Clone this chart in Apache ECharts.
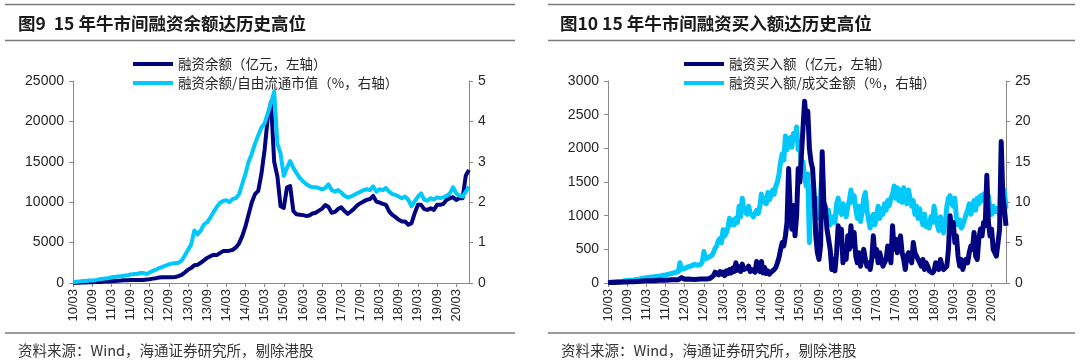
<!DOCTYPE html>
<html><head><meta charset="utf-8">
<script src="https://cdn.jsdelivr.net/npm/echarts@6/dist/echarts.min.js"></script>
<style>html,body{margin:0;padding:0;background:#fff}#c{width:1080px;height:363px}</style>
</head><body><div id="c"></div>
<script>
// ---------- Left chart: 融资余额 (monthly, 2010/03 - 2020/07) ----------
const leftBalance = [
  1, 20, 40, 55, 70, 90, 100, 115, 130, 130,
  170, 200, 230, 260, 280, 300, 330, 350, 370, 375, 380, 380,
  370, 420, 470, 540, 600, 680, 700, 700, 710, 720, 740, 850,
  1000, 1300, 1650, 1850, 2200, 2250, 2500, 2800, 3100, 3300, 3500, 3450,
  3700, 3950, 3950, 4000, 4100, 4400, 4900, 5800, 7000, 8500, 10000, 11000,
  11400, 13500, 16500, 20500, 22400, 15000, 13200, 9500, 9300, 11800, 12000, 8900,
  8500, 8450, 8400, 8300, 8350, 8600, 8700, 8950, 9200, 9650, 9400, 8700,
  8800, 9150, 9380, 8900, 8560, 8850, 9200, 9600, 9880, 10100, 10290, 10400,
  10780, 10080, 9960, 9800, 9670, 8850, 8440, 8150, 7820, 7610, 7610, 7200,
  7410, 8640, 9670, 9670, 9140, 9050, 9260, 9050, 9670, 9670, 9800, 10290,
  10490, 10620, 10290, 10490, 10500, 13300, 14000
];
const leftRatio = [
  0.02, 0.03, 0.04, 0.05, 0.05, 0.06, 0.06, 0.07, 0.09, 0.1,
  0.11, 0.12, 0.14, 0.15, 0.16, 0.17, 0.18, 0.19, 0.21, 0.22, 0.22, 0.25,
  0.25, 0.22, 0.26, 0.3, 0.33, 0.37, 0.4, 0.43, 0.46, 0.48, 0.49, 0.5,
  0.55, 0.68, 0.82, 0.95, 1.3, 1.2, 1.3, 1.45, 1.5, 1.62, 1.75, 1.88,
  1.98, 2.03, 2.05, 2.0, 2.08, 2.1, 2.2, 2.45, 2.7, 3.0, 3.2, 3.45,
  3.65, 3.85, 3.95, 4.2, 4.45, 4.74, 3.45, 3.2, 2.65, 2.85, 3.02, 2.85,
  2.72, 2.6, 2.52, 2.45, 2.4, 2.37, 2.37, 2.35, 2.32, 2.35, 2.44, 2.3,
  2.26, 2.3, 2.24, 2.16, 2.12, 2.14, 2.18, 2.22, 2.26, 2.3, 2.32, 2.3,
  2.39, 2.26, 2.32, 2.3, 2.35, 2.26, 2.2, 2.18, 2.14, 2.1, 2.14, 2.06,
  1.9, 2.02, 2.14, 2.22, 2.06, 2.04, 2.1, 2.07, 2.12, 2.1, 2.12, 2.16,
  2.22, 2.37, 2.22, 2.16, 2.14, 2.26, 2.39
];
// ---------- Right chart: 融资买入额 (semi-monthly, 2010/03 - 2020/07) ----------
const rightBuy = [
  3, 5, 6, 8, 8, 10, 10, 12, 12, 14, 15, 16, 16, 18, 20, 22, 20, 24, 22, 26,
  25, 28, 30, 26, 32, 30, 35, 28, 32, 30, 38, 34, 40, 35, 42, 38, 40, 36, 44, 40, 48, 45, 50, 42,
  48, 55, 80, 60, 55, 62, 58, 50, 55, 60, 52, 58, 55, 50, 58, 52, 60, 55, 58, 62, 70, 90, 110, 160,
  150, 120, 170, 130, 160, 110, 180, 140, 200, 150, 220, 170, 300, 190, 240, 170, 280, 200, 180, 220, 250, 170, 200, 180,
  160, 320, 200, 170, 320, 150, 230, 140, 180, 130, 160, 150, 200, 230, 300, 380, 500, 600, 550, 700, 900, 1700, 1100, 800,
  1150, 700, 1000, 1700, 1500, 1900, 2300, 2700, 2400, 2550, 2000, 1800, 1700, 1300, 700, 450, 350, 550, 1950, 1200, 1100, 800, 800, 500,
  200, 350, 180, 450, 850, 600, 800, 300, 450, 350, 700, 500, 850, 550, 750, 400, 300, 450, 250, 400, 500, 350, 250, 300,
  200, 350, 700, 400, 500, 300, 450, 350, 250, 300, 350, 550, 500, 300, 850, 500, 650, 450, 600, 700, 450, 350, 200, 400,
  450, 350, 300, 600, 450, 400, 350, 300, 250, 350, 200, 300, 250, 180, 200, 150, 180, 300, 250, 200, 350, 250, 200, 180,
  250, 500, 1000, 800, 900, 600, 700, 400, 250, 350, 200, 300, 350, 300, 450, 550, 500, 750, 400, 350, 650, 800, 700, 900,
  850, 1600, 900, 700, 800, 500, 450, 400, 600, 800, 2100, 1300, 1100, 850
];
const rightBuyRatio = [
  0.1, 0.1, 0.12, 0.15, 0.15, 0.18, 0.18, 0.2, 0.2, 0.22, 0.25, 0.28, 0.3, 0.32, 0.35, 0.4, 0.38, 0.42, 0.45, 0.48,
  0.5, 0.55, 0.6, 0.55, 0.65, 0.6, 0.7, 0.65, 0.75, 0.7, 0.8, 0.75, 0.85, 0.8, 0.95, 0.9, 1.0, 0.95, 1.1, 1.05, 1.2, 1.1, 1.3, 1.2,
  1.4, 2.5, 1.7, 1.6, 1.8, 1.9, 2.0, 1.8, 2.1, 2.0, 2.3, 2.1, 2.2, 2.4, 2.3, 2.6, 3.9, 3.0, 3.0, 3.2, 3.1, 3.4, 3.8, 4.3,
  4.6, 5.2, 5.5, 5.0, 6.6, 5.8, 6.2, 6.8, 8.0, 7.2, 7.8, 7.2, 8.0, 7.5, 9.5, 8.2, 10.5, 9.0, 9.2, 8.5, 9.5, 8.6, 8.8, 8.2,
  8.0, 9.0, 8.6, 9.5, 11.0, 10.0, 10.5, 9.8, 11.2, 10.3, 10.8, 11.5, 11.0, 12.0, 12.5, 13.5, 15.0, 16.0, 15.2, 18.2, 16.5, 17.5, 18.0, 16.8,
  18.5, 17.8, 19.3, 16.5, 17.0, 14.5, 15.0, 13.0, 12.0, 13.5, 5.0, 11.5, 12.0, 9.5, 10.5, 8.0, 9.0, 11.0, 14.0, 10.0, 9.5, 8.0, 9.0, 7.2,
  7.0, 8.2, 7.5, 9.8, 10.5, 9.0, 8.5, 9.8, 9.0, 8.2, 9.5, 10.2, 11.5, 10.0, 10.8, 9.2, 8.0, 9.5, 7.6, 8.8, 10.5, 11.2, 9.0, 7.8,
  6.8, 8.0, 8.5, 7.2, 8.2, 9.5, 8.0, 9.2, 8.5, 9.8, 9.0, 10.2, 9.6, 10.5, 11.0, 12.0, 10.5, 11.8, 10.2, 11.5, 10.0, 11.8, 10.5, 9.8,
  11.5, 10.5, 9.5, 10.2, 8.5, 9.5, 8.0, 9.2, 8.0, 7.2, 8.5, 7.0, 7.5, 6.8, 8.2, 7.5, 9.5, 8.0, 7.2, 6.5, 8.2, 7.0, 6.2, 7.5,
  9.5, 10.5, 10.8, 9.8, 9.5, 10.5, 8.0, 7.2, 7.8, 6.8, 7.2, 7.8, 8.5, 9.0, 9.8, 8.5, 9.5, 10.2, 9.0, 10.5, 9.8, 10.8, 10.2, 11.0,
  10.5, 9.8, 10.8, 9.2, 8.5, 9.5, 8.8, 9.2, 9.0, 8.5, 12.0, 10.5, 11.5, 9.2
];
const tickMonths = ['03', '09'];
const leftTicks = [0, 5000, 10000, 15000, 20000, 25000];
const leftRTicks = [0, 1, 2, 3, 4, 5];
const rightTicks = [0, 500, 1000, 1500, 2000, 2500, 3000];
const rightRTicks = [0, 5, 10, 15, 20, 25];

const names = {
  l1: '融资余额（亿元，左轴）', l2: '融资余额/自由流通市值（%，右轴）',
  r1: '融资买入额（亿元，左轴）', r2: '融资买入额/成交金额（%，右轴）'
};

function monthCats(y0, m0, y1, m1, half) {
  const out = []; let y = y0, m = m0;
  while (y < y1 || (y === y1 && m <= m1)) {
    const s = String(y % 100).padStart(2, '0') + '/' + String(m).padStart(2, '0');
    if (half) { out.push(s + '/01'); out.push(s + '/16'); } else out.push(s);
    m++; if (m > 12) { m = 1; y++; }
  }
  return out;
}
const leftCats = monthCats(2010, 3, 2020, 7, false);
const rightCats = monthCats(2010, 3, 2020, 7, true);

const NAVY = '#02037f', CYAN = '#00c8fa', AX = '#8a8a8a', TXT = '#262626';
const LAT = "'Liberation Sans', Arial, 'Noto Sans CJK SC', sans-serif";
const CJK = "'Noto Sans CJK SC', 'Liberation Sans', sans-serif";

const showTick = (i, v) => tickMonths.includes(v.slice(3, 5)) && (v.length === 5 || v.slice(6) === '01');

function xAx(grid, cats) {
  return {
    type: 'category', gridIndex: grid, data: cats, boundaryGap: false,
    axisLine: { lineStyle: { color: AX, width: 1 } },
    axisTick: { show: true, length: 4, interval: showTick, lineStyle: { color: AX } },
    axisLabel: { interval: showTick, rotate: 90, formatter: v => v.slice(0, 5),
      fontSize: 13, color: TXT, margin: 6, fontFamily: LAT },
    splitLine: { show: false }
  };
}
function yAx(grid, pos, ticks) {
  return {
    type: 'value', gridIndex: grid, position: pos,
    min: ticks[0], max: ticks[ticks.length - 1], interval: ticks[1] - ticks[0],
    axisLine: { show: true, lineStyle: { color: AX, width: 1 } },
    axisTick: { show: true, length: 4, lineStyle: { color: AX } },
    splitLine: { show: false },
    axisLabel: { fontSize: 14, color: TXT, margin: 9, fontFamily: LAT, formatter: v => String(v) }
  };
}
function line(name, x, y, data, color, z, w) {
  return { type: 'line', name, xAxisIndex: x, yAxisIndex: y, data, showSymbol: false, symbol: 'none',
    lineStyle: { color, width: w, join: 'round' }, itemStyle: { color }, z, animation: false };
}
function legend(left, a, b) {
  return { data: [a, b], orient: 'vertical', left, top: 52, icon: 'rect', itemWidth: 40, itemHeight: 4,
    itemGap: 5, textStyle: { fontSize: 13.5, color: TXT, fontFamily: CJK, lineHeight: 14 } };
}
function hr(x1, x2, y) {
  return { type: 'line', shape: { x1, y1: y, x2, y2: y }, style: { stroke: '#7a7a7a', lineWidth: 1.5 } };
}
function txt(x, y, text, font, fill) {
  return { type: 'text', x, y, style: { text, font, fill, verticalAlign: 'middle' } };
}

const chart = echarts.init(document.getElementById('c'), null, { renderer: 'canvas' });
chart.setOption({
  backgroundColor: '#fff',
  animation: false,
  grid: [
    { left: 73, top: 81, width: 396, height: 202 },
    { left: 608, top: 81, width: 398, height: 202 }
  ],
  legend: [legend(128, names.l1, names.l2), legend(679, names.r1, names.r2)],
  xAxis: [xAx(0, leftCats), xAx(1, rightCats)],
  yAxis: [yAx(0, 'left', leftTicks), yAx(0, 'right', leftRTicks), yAx(1, 'left', rightTicks), yAx(1, 'right', rightRTicks)],
  series: [
    line(names.l1, 0, 0, leftBalance, NAVY, 2, 4),
    line(names.l2, 0, 1, leftRatio, CYAN, 3, 4),
    line(names.r2, 1, 3, rightBuyRatio, CYAN, 2, 5),
    line(names.r1, 1, 2, rightBuy, NAVY, 3, 5)
  ],
  graphic: [
    hr(5, 515, 4.5), hr(5, 515, 40.5), hr(5, 515, 333),
    hr(548, 1075, 4.5), hr(548, 1075, 40.5), hr(548, 1075, 333),
    txt(18, 23, '图9  15 年牛市间融资余额达历史高位', "bold 17.5px 'Noto Sans CJK SC', sans-serif", '#1a1a1a'),
    txt(560, 23, '图10 15 年牛市间融资买入额达历史高位', "bold 17.5px 'Noto Sans CJK SC', sans-serif", '#1a1a1a'),
    txt(18, 350, '资料来源：Wind，海通证券研究所，剔除港股', "14.5px 'Noto Sans CJK SC', sans-serif", '#333'),
    txt(561, 350, '资料来源：Wind，海通证券研究所，剔除港股', "14.5px 'Noto Sans CJK SC', sans-serif", '#333')
  ]
});
</script></body></html>
